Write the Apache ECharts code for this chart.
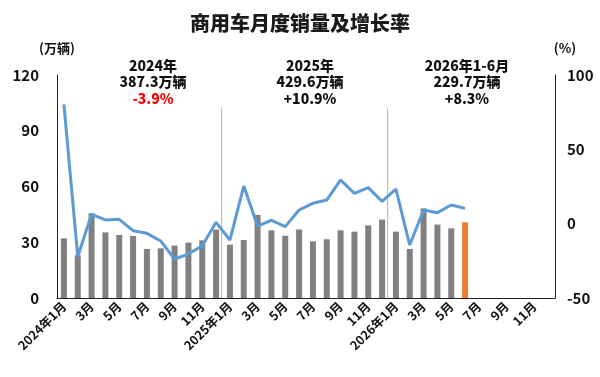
<!DOCTYPE html>
<html>
<head>
<meta charset="utf-8">
<script src="https://cdn.jsdelivr.net/npm/echarts@6/dist/echarts.min.js"></script>
<style>
  html, body {margin: 0; padding: 0; background: #fff;}
  #chart {width: 600px; height: 377px;}
</style>
</head>
<body>
<div id="chart"></div>
<script>
// 2024年1月 .. 2026年12月
const years = [2024, 2025, 2026];
const months = [];
years.forEach(y => {
  for (let m = 1; m <= 12; m++) months.push(m === 1 ? y + '年1月' : m + '月');
});

// 销量 (万辆)
const sales = [
  32.1, 23.0, 45.6, 35.3, 33.9, 33.4, 26.4, 26.7, 28.2, 29.8, 31.0, 36.8,
  28.7, 31.2, 44.7, 36.4, 33.5, 36.9, 30.5, 31.6, 36.4, 35.7, 39.1, 42.2,
  35.7, 26.4, 48.2, 39.5, 37.5, 40.7
];
// 同比增长率 (%)
const growth = [
  80.3, -22.2, 6.3, 2.5, 2.9, -4.7, -6.5, -11.7, -23.8, -20.4, -14.8, 0.9,
  -11.0, 25.3, -1.6, 2.3, -2.0, 9.2, 13.7, 15.9, 29.4, 20.4, 24.2, 15.0,
  23.3, -14.4, 9.2, 7.4, 12.6, 10.3
];
// 年度分隔 (月序号)
const yearBreaks = [12, 24];
const breakTop = 102;
const notes = [
  ['2024年', '387.3万辆', '-3.9%'],
  ['2025年', '429.6万辆', '+10.9%'],
  ['2026年1-6月', '229.7万辆', '+8.3%']
];

const myChart = echarts.init(document.getElementById('chart'));
const font = '"Noto Sans CJK SC", "Noto Sans", sans-serif';
const lastIdx = sales.length - 1;
const noteX = [148, 305, 462];
const sepColor = '#8FBCE6';
const noteStyle = {fontSize: 14, fontWeight: 900, fontFamily: font, lineHeight: 16.5};

const noteTitles = notes.map((n, i) => ({
  text: '{a|' + n[0] + '}\n{a|' + n[1] + '}\n{c|' + n[2] + '}',
  left: noteX[i],
  top: 52,
  textAlign: 'center',
  textStyle: {
    fontSize: 14,
    fontWeight: 900,
    fontFamily: font,
    color: '#111',
    rich: {
      a: Object.assign({color: '#111'}, noteStyle),
      c: Object.assign({color: i === 0 ? '#FF0000' : '#111'}, noteStyle)
    }
  }
}));

// 年度分隔线
const breakSeries = yearBreaks.map(b => ({
  type: 'line',
  xAxisIndex: 1,
  yAxisIndex: 0,
  data: [[b - 0.1, 0], [b - 0.1, breakTop]],
  symbol: 'none',
  silent: true,
  lineStyle: {color: sepColor, width: 1},
  z: 1
}));

myChart.setOption({
  textStyle: {fontFamily: font},
  title: [{
    text: '商用车月度销量及增长率',
    left: 'center',
    top: 8,
    textStyle: {fontSize: 20, fontWeight: 900, color: '#1a1a1a', fontFamily: font}
  }].concat(noteTitles),
  grid: {left: 57, right: 45, top: 75, bottom: 79},
  xAxis: [{
    type: 'category',
    data: months,
    axisLine: {lineStyle: {color: '#222', width: 1}},
    axisTick: {show: false},
    axisLabel: {
      interval: 1,
      rotate: 45,
      color: '#111',
      fontWeight: 'bold',
      fontSize: 12.5,
      margin: 6
    }
  }, {
    type: 'value',
    min: 0,
    max: 36,
    show: false
  }],
  yAxis: [{
    type: 'value',
    min: 0,
    max: 120,
    interval: 30,
    name: '(万辆)',
    nameGap: 20,
    nameTextStyle: {color: '#111', fontWeight: 'bold', fontSize: 13},
    axisLine: {show: true, lineStyle: {color: '#222'}},
    axisTick: {show: false},
    splitLine: {show: false},
    axisLabel: {color: '#111', fontWeight: 'bold', fontSize: 15, margin: 18}
  }, {
    type: 'value',
    min: -50,
    max: 100,
    interval: 50,
    name: '(%)',
    nameGap: 20,
    nameTextStyle: {color: '#111', fontWeight: 'bold', fontSize: 13, padding: [0, 0, 0, 20]},
    axisLine: {show: true, lineStyle: {color: '#222'}},
    axisTick: {show: false},
    splitLine: {show: false},
    axisLabel: {color: '#111', fontWeight: 'bold', fontSize: 15, margin: 12}
  }],
  series: [{
    type: 'bar',
    yAxisIndex: 0,
    barWidth: 6,
    z: 2,
    data: sales.map((v, i) => ({
      value: v,
      itemStyle: {color: i === lastIdx ? '#ED7D31' : '#808080'}
    }))
  }, {
    type: 'line',
    yAxisIndex: 1,
    data: growth,
    symbol: 'none',
    lineStyle: {color: '#5B9BD5', width: 3},
    z: 5
  }].concat(breakSeries)
});
</script>
</body>
</html>
